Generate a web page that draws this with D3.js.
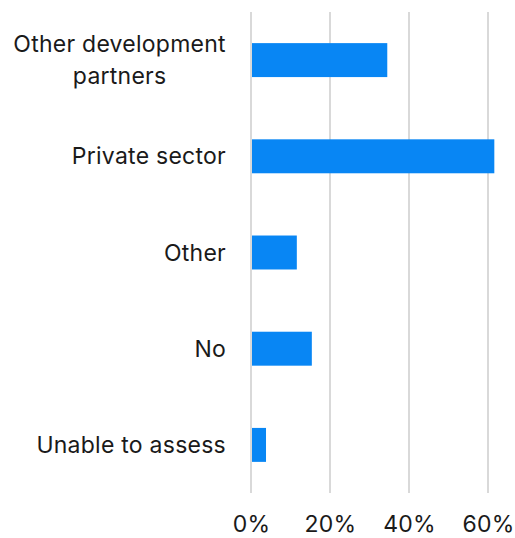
<!DOCTYPE html>
<html>
<head>
<meta charset="utf-8">
<script src="https://cdn.jsdelivr.net/npm/d3@7"></script>
<style>
  html, body { margin: 0; padding: 0; background: #fff; }
  svg { display: block; }
  text { font-family: Inter, "Noto Sans", sans-serif; fill: #1a1a1a; letter-spacing: 0.25px; }
</style>
</head>
<body>
<svg id="chart" width="515" height="538"></svg>
<script>
// Share of responses per category (percent)
const categories = [
  ["Other development", "partners"],
  ["Private sector"],
  ["Other"],
  ["No"],
  ["Unable to assess"]
];
const values = [34.5, 61.6, 11.6, 15.4, 3.8];
const tickValues = [0, 20, 40, 60];

const svg = d3.select("#chart");
const margin = { top: 12, left: 251, bottom: 45 };
const plotW = 237 / 60 * 66;
const plotH = 538 - margin.top - margin.bottom;

const keys = categories.map(c => c.join(" "));

const x = d3.scaleLinear().domain([0, 66]).range([margin.left, margin.left + plotW]);
const y = d3.scaleBand().domain(keys).range([margin.top, margin.top + plotH]).paddingInner(0.647).paddingOuter(0.3235);

// Vertical gridlines
svg.append("g")
  .selectAll("line")
  .data(tickValues)
  .join("line")
  .attr("x1", d => x(d)).attr("x2", d => x(d))
  .attr("y1", margin.top).attr("y2", margin.top + plotH)
  .attr("stroke", "#d9d9d9")
  .attr("stroke-width", 2);

// Bars
svg.append("g")
  .selectAll("rect")
  .data(values)
  .join("rect")
  .attr("x", x(0) + 1)
  .attr("y", (d, i) => y(keys[i]))
  .attr("width", d => x(d) - x(0) - 1)
  .attr("height", y.bandwidth())
  .attr("fill", "#0886f4");

// Bottom axis labels
const xAxis = d3.axisBottom(x).tickValues(tickValues).tickFormat(d => d + "%").tickSize(0).tickPadding(0);
const gx = svg.append("g")
  .attr("transform", `translate(0, ${margin.top + plotH})`)
  .call(xAxis);
gx.select(".domain").remove();
gx.selectAll("text")
  .attr("dy", null)
  .attr("y", 38.5)
  .style("font-family", "Inter, 'Noto Sans', sans-serif")
  .style("font-size", "23px")
  .attr("fill", "#1a1a1a");

// Category labels, right aligned block with centered lines
const lineH = 31.5;
const labelG = svg.append("g");
categories.forEach((lines, i) => {
  const cy = y(keys[i]) + y.bandwidth() / 2;
  const t = labelG.append("text")
    .attr("text-anchor", "middle")
    .style("font-size", "23px");
  lines.forEach((ln, j) => {
    t.append("tspan")
      .attr("x", 0)
      .attr("y", cy + (j - (lines.length - 1) / 2) * lineH)
      .attr("dy", "0.35em")
      .text(ln);
  });
  const w = t.node().getBBox().width;
  t.selectAll("tspan").attr("x", 226 - w / 2);
});
</script>
</body>
</html>
